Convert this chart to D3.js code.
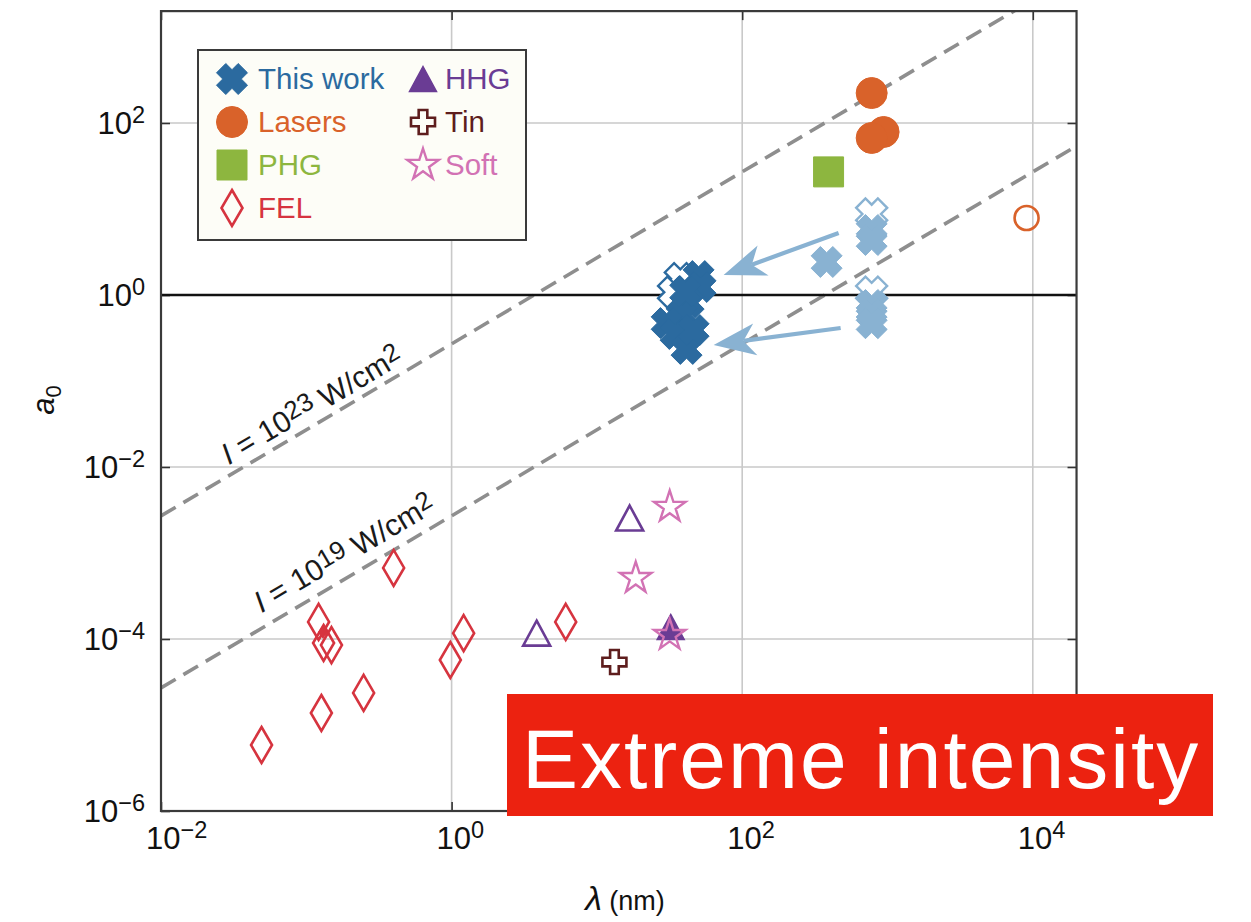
<!DOCTYPE html>
<html>
<head>
<meta charset="utf-8">
<script src="https://cdn.jsdelivr.net/npm/d3@7"></script>
<style>
  body { margin: 0; background: #fff; }
  svg { display: block; }
</style>
</head>
<body>
<svg id="chart" width="1251" height="922"></svg>
<script>
// ---- Data: [wavelength (nm), normalized vector potential a0] ----
const thisWorkFilled = [
  [50.1, 1.66], [51.7, 1.24], [42.8, 0.81], [38.3, 0.585],
  [30.2, 0.472], [34.8, 0.352], [41.4, 0.236], [46.3, 0.392], [40.5, 1.1]
];
const thisWorkOpen = [[37.5, 1.55], [33.7, 1.08]];
const driverFilled = [
  [381, 2.42], [778, 5.7], [778, 4.36], [778, 0.765], [778, 0.6], [778, 0.47]
];
const driverOpen = [[778, 8.75], [778, 1.08]];
const lasersFilled = [[778, 223], [940, 78.6], [778, 67]];
const lasersOpen = [[9060, 7.86]];
const phg = [[393, 27]];
const fel = [
  [0.0492, 5.85e-6], [0.1215, 1.58e-4], [0.1315, 8.98e-5], [0.149, 8.5e-5],
  [0.127, 1.38e-5], [0.248, 2.36e-5], [0.399, 6.7e-4], [0.98, 5.7e-5],
  [1.21, 1.17e-4], [6.1, 1.58e-4]
];
const felSmall = [[0.13, 1.2e-4]];
const hhgOpen = [[16.8, 2.55e-3], [3.85, 1.17e-4]];
const hhgFilled = [[32.2, 1.38e-4]];
const tin = [[13.2, 5.4e-5]];
const soft = [[31.7, 3.43e-3], [18.5, 5.1e-4], [31.7, 1.11e-4]];

// Conversion arrows: [from, to]
const arrows = [
  [[461, 5.26], [74.5, 1.71]],
  [[476, 0.413], [63.6, 0.263]]
];

// Constant-intensity guide lines (W/cm^2) and their label anchors
const intensityLevels = [1e23, 1e19];
const intensityExponents = ["23", "19"];
const intensityLabelLambda = [0.0315, 0.0545];

const xTicks = [1e-2, 1e0, 1e2, 1e4];
const xTickExponents = ["\u22122", "0", "2", "4"];
const yTicks = [1e-6, 1e-4, 1e-2, 1e0, 1e2];
const yTickExponents = ["\u22126", "\u22124", "\u22122", "0", "2"];

const legendNames = ["This work", "Lasers", "PHG", "FEL", "HHG", "Tin", "Soft"];

// ---- Colours ----
const C = {
  work: "#2b6a9f", driver: "#89b2d2", lasers: "#d9622a", phg: "#8db63f",
  fel: "#d6343f", hhg: "#6a3c94", tin: "#5e1d1d", soft: "#d272b4"
};

// ---- Layout & scales ----
const svg = d3.select("#chart");
const plotLeft = 161;
const x = d3.scaleLog().domain([1e-2, 2e4]).range([plotLeft, plotLeft + Math.log10(2e6) * 145.3]);
const y = d3.scaleLog().domain([1e-6, 2e3]).range([811, 811 - Math.log10(2e9) * 86]);
const [x0, x1] = x.range();
const [y0, y1] = y.range();

const sansFont = "'Liberation Sans', Arial, Helvetica, sans-serif";
const narrowFont = "'Liberation Sans Narrow', 'Liberation Sans', Arial, sans-serif";

svg.append("defs").append("clipPath").attr("id", "plotClip")
  .append("rect").attr("x", x0).attr("y", y1).attr("width", x1 - x0).attr("height", y0 - y1);

// ---- Grid ----
const grid = svg.append("g").attr("stroke", "#c9c9c9").attr("stroke-width", 1.6);
grid.selectAll("line.gx").data(xTicks.slice(1)).join("line")
  .attr("x1", d => x(d)).attr("x2", d => x(d)).attr("y1", y0).attr("y2", y1);
grid.selectAll("line.gy").data(yTicks.slice(1)).join("line")
  .attr("x1", x0).attr("x2", x1).attr("y1", d => y(d)).attr("y2", d => y(d));

// ---- Axes (inward ticks on all four sides) ----
const axisG = svg.append("g");
const tickLen = 9;
axisG.append("g").attr("transform", `translate(0,${y0})`)
  .call(d3.axisBottom(x).tickValues(xTicks).tickSizeInner(-tickLen).tickSizeOuter(0).tickFormat(""));
axisG.append("g").attr("transform", `translate(0,${y1})`)
  .call(d3.axisTop(x).tickValues(xTicks).tickSizeInner(-tickLen).tickSizeOuter(0).tickFormat(""));
axisG.append("g").attr("transform", `translate(${x0},0)`)
  .call(d3.axisLeft(y).tickValues(yTicks).tickSizeInner(-tickLen).tickSizeOuter(0).tickFormat(""));
axisG.append("g").attr("transform", `translate(${x1},0)`)
  .call(d3.axisRight(y).tickValues(yTicks).tickSizeInner(-tickLen).tickSizeOuter(0).tickFormat(""));
axisG.selectAll(".domain").remove();
axisG.selectAll(".tick line").attr("stroke", "#333").attr("stroke-width", 1.6);

// Tick labels with superscript exponents
function powerLabel(sel, exp) {
  sel.append("tspan").text("10");
  sel.append("tspan").attr("dy", "-0.45em").attr("font-size", "0.76em").text(exp);
}
xTicks.forEach((t, i) => {
  const tx = svg.append("text").attr("x", x(t) - 15).attr("y", 849)
    .attr("font-family", narrowFont).attr("font-size", 31).attr("fill", "#111");
  powerLabel(tx, xTickExponents[i]);
});
yTicks.forEach((t, i) => {
  const ty = svg.append("text").attr("x", 145).attr("y", y(t) + 11)
    .attr("text-anchor", "end")
    .attr("font-family", narrowFont).attr("font-size", 31).attr("fill", "#111");
  powerLabel(ty, yTickExponents[i]);
});

// Axis titles
const xt = svg.append("text").attr("x", 625).attr("y", 910).attr("text-anchor", "middle")
  .attr("font-family", narrowFont).attr("fill", "#111");
xt.append("tspan").attr("font-style", "italic").attr("font-size", 34).text("\u03bb");
xt.append("tspan").attr("font-size", 27).text(" (nm)");

const yt = svg.append("text").attr("transform", "translate(54,400) rotate(-90)")
  .attr("text-anchor", "middle").attr("font-family", narrowFont).attr("fill", "#111");
yt.append("tspan").attr("font-style", "italic").attr("font-size", 31).text("a");
yt.append("tspan").attr("font-size", 22).attr("dy", "0.3em").text("0");

// ---- Constant-intensity lines ----
const a0Of = (lam, I) => 0.855 * (lam / 1000) * Math.sqrt(I / 1e18);
const plot = svg.append("g").attr("clip-path", "url(#plotClip)");
const lamSpan = [1e-2, 2e4];
intensityLevels.forEach(I => {
  plot.append("line")
    .attr("x1", x(lamSpan[0])).attr("y1", y(a0Of(lamSpan[0], I)))
    .attr("x2", x(lamSpan[1])).attr("y2", y(a0Of(lamSpan[1], I)))
    .attr("stroke", "#8e8e8e").attr("stroke-width", 3.6).attr("stroke-dasharray", "17,9");
});

// a0 = 1 reference line
plot.append("line").attr("x1", x0).attr("x2", x1).attr("y1", y(1)).attr("y2", y(1))
  .attr("stroke", "#111").attr("stroke-width", 2.4);

// Line labels, rotated along each line
const labelOffsets = [-9, -13];
intensityLevels.forEach((I, i) => {
  const lam = intensityLabelLambda[i];
  const px = x(lam), py = y(a0Of(lam, I));
  const ang = Math.atan2(y(a0Of(lam * 10, I)) - py, x(lam * 10) - px) * 180 / Math.PI;
  const t = svg.append("text")
    .attr("transform", `translate(${px},${py}) rotate(${ang}) translate(0,${labelOffsets[i]})`)
    .attr("font-family", sansFont).attr("font-size", 30).attr("fill", "#1a1a1a");
  t.append("tspan").attr("font-style", "italic").text("I");
  t.append("tspan").text(" = 10");
  t.append("tspan").attr("dy", "-0.25em").attr("font-size", "0.86em").text(intensityExponents[i]);
  t.append("tspan").attr("dy", "0.25em").text(" W/cm");
  t.append("tspan").attr("dy", "-0.25em").attr("font-size", "0.86em").text("2");
});

// ---- Marker shapes (path strings centred on 0,0) ----
function xShape(size) {
  const e = size / 2 * Math.SQRT2, a = 0.3 * e, L = e - a;
  const pts = [[a, -L], [a, -a], [L, -a], [L, a], [a, a], [a, L], [-a, L], [-a, a], [-L, a], [-L, -a], [-a, -a], [-a, -L]];
  const c = Math.SQRT1_2;
  return "M" + pts.map(([u, v]) => [(u - v) * c, (u + v) * c].map(n => n.toFixed(2)).join(",")).join("L") + "Z";
}
function plusShape(size) {
  const L = size / 2, a = L * 0.36;
  const pts = [[a, -L], [a, -a], [L, -a], [L, a], [a, a], [a, L], [-a, L], [-a, a], [-L, a], [-L, -a], [-a, -a], [-a, -L]];
  return "M" + pts.map(p => p.join(",")).join("L") + "Z";
}
function diamondShape(w, h) {
  return `M0,${-h / 2}L${w / 2},0L0,${h / 2}L${-w / 2},0Z`;
}
function triangleShape(w, h) {
  return `M0,${-h / 2}L${w / 2},${h / 2}L${-w / 2},${h / 2}Z`;
}
function starShape(R) {
  const r = R * 0.382, pts = [];
  for (let k = 0; k < 10; k++) {
    const rad = k % 2 ? r : R, th = -Math.PI / 2 + k * Math.PI / 5;
    pts.push([rad * Math.cos(th), rad * Math.sin(th)]);
  }
  return "M" + pts.map(p => p.map(n => n.toFixed(2)).join(",")).join("L") + "Z";
}
function circleShape(r) {
  return `M${r},0A${r},${r} 0 1,1 ${-r},0A${r},${r} 0 1,1 ${r},0Z`;
}

const markers = svg.append("g");
function drawMarkers(data, shape, fill, stroke, sw) {
  markers.append("g").selectAll("path").data(data).join("path")
    .attr("d", shape)
    .attr("transform", d => `translate(${x(d[0])},${y(d[1])})`)
    .attr("fill", fill).attr("stroke", stroke).attr("stroke-width", sw)
    .attr("stroke-linejoin", "miter");
}

const S = {
  x: xShape(31), circle: circleShape(15.5), square: "M-15,-15H15V15H-15Z",
  diamond: diamondShape(21, 36), tri: triangleShape(27, 25), plus: plusShape(24), star: starShape(16.5)
};

drawMarkers(fel, S.diamond, "none", C.fel, 2.6);
drawMarkers(felSmall, diamondShape(9, 12), C.fel, C.fel, 1);
drawMarkers(tin, S.plus, "#fff", C.tin, 2.6);
drawMarkers(hhgOpen, S.tri, "none", C.hhg, 2.6);
drawMarkers(hhgFilled, S.tri, C.hhg, C.hhg, 1.5);
drawMarkers(soft, S.star, "none", C.soft, 2.4);
drawMarkers(phg, S.square, C.phg, C.phg, 1);
drawMarkers(lasersOpen, circleShape(12), "none", C.lasers, 2.6);
drawMarkers(lasersFilled, S.circle, C.lasers, C.lasers, 1);
drawMarkers(driverOpen, S.x, "#fff", C.driver, 2.4);
drawMarkers(driverFilled, S.x, C.driver, C.driver, 1);
drawMarkers(thisWorkOpen, S.x, "#fff", C.work, 2.4);
drawMarkers(thisWorkFilled, S.x, C.work, C.work, 1);

// ---- Conversion arrows ----
const arrowG = svg.append("g");
arrows.forEach(([from, to]) => {
  const fx = x(from[0]), fy = y(from[1]), tx = x(to[0]), ty = y(to[1]);
  const ang = Math.atan2(ty - fy, tx - fx);
  const headLen = 42, halfW = 16, notch = 30;
  const ux = Math.cos(ang), uy = Math.sin(ang), nx = -uy, ny = ux;
  const bx = tx - ux * headLen, by = ty - uy * headLen;
  const mx = tx - ux * notch, my = ty - uy * notch;
  arrowG.append("line").attr("x1", fx).attr("y1", fy).attr("x2", mx).attr("y2", my)
    .attr("stroke", C.driver).attr("stroke-width", 4.2);
  arrowG.append("path")
    .attr("d", `M${tx},${ty}L${bx + nx * halfW},${by + ny * halfW}L${mx},${my}L${bx - nx * halfW},${by - ny * halfW}Z`)
    .attr("fill", C.driver);
});

// ---- Frame ----
svg.append("rect").attr("x", x0).attr("y", y1).attr("width", x1 - x0).attr("height", y0 - y1)
  .attr("fill", "none").attr("stroke", "#3a3a3a").attr("stroke-width", 2.2);

// ---- Legend ----
const legendSymbols = [
  { d: S.x, fill: C.work, stroke: C.work, sw: 1 },
  { d: S.circle, fill: C.lasers, stroke: C.lasers, sw: 1 },
  { d: S.square, fill: C.phg, stroke: C.phg, sw: 1 },
  { d: S.diamond, fill: "none", stroke: C.fel, sw: 2.6 },
  { d: S.tri, fill: C.hhg, stroke: C.hhg, sw: 1.5 },
  { d: S.plus, fill: "none", stroke: C.tin, sw: 2.6 },
  { d: S.star, fill: "none", stroke: C.soft, sw: 2.4 }
];
const legendColors = [C.work, C.lasers, C.phg, C.fel, C.hhg, C.tin, C.soft];
const leg = svg.append("g");
leg.append("rect").attr("x", 198).attr("y", 50).attr("width", 328).attr("height", 190)
  .attr("fill", "#fdfdf7").attr("stroke", "#3a3a3a").attr("stroke-width", 2);
legendNames.forEach((name, i) => {
  const col = i < 4 ? 0 : 1, row = i < 4 ? i : i - 4;
  const sx = col ? 423 : 232, tx = col ? 445 : 258, cy = 79 + row * 43;
  const s = legendSymbols[i];
  leg.append("path").attr("d", s.d).attr("transform", `translate(${sx},${cy})`)
    .attr("fill", s.fill).attr("stroke", s.stroke).attr("stroke-width", s.sw);
  leg.append("text").attr("x", tx).attr("y", cy + 10)
    .attr("font-family", sansFont).attr("font-size", 29.5).attr("fill", legendColors[i]).text(name);
});

// ---- Banner ----
svg.append("rect").attr("x", 507).attr("y", 694).attr("width", 706).attr("height", 122).attr("fill", "#ec2210");
svg.append("text").attr("x", 522).attr("y", 788)
  .attr("font-family", sansFont).attr("font-size", 84).attr("letter-spacing", 2)
  .attr("fill", "#fff").text("Extreme intensity");
</script>
</body>
</html>
